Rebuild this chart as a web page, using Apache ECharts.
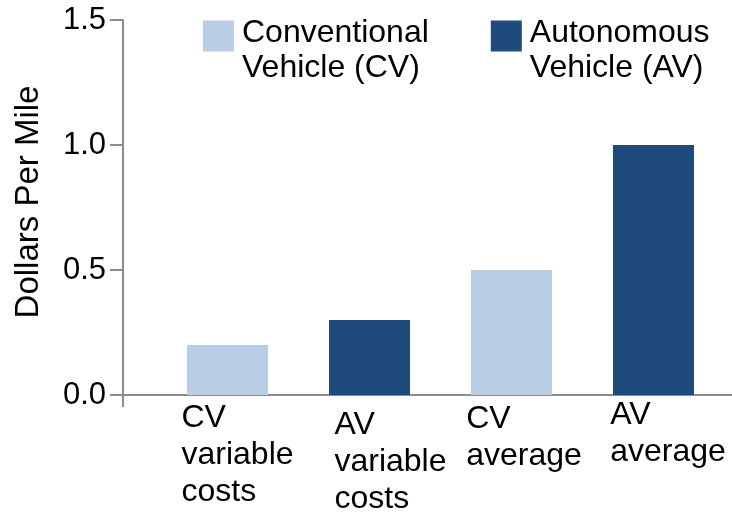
<!DOCTYPE html>
<html>
<head>
<meta charset="utf-8">
<script src="https://cdn.jsdelivr.net/npm/echarts@6/dist/echarts.min.js"></script>
<style>
html,body{margin:0;padding:0;background:#fff;}
#chart{width:732px;height:516px;}
</style>
</head>
<body>
<div id="chart"></div>
<script>
// ---- data ----
const categories = ['CV\nvariable\ncosts', 'AV\nvariable\ncosts', 'CV\naverage', 'AV\naverage'];
const vehicleType = ['CV', 'AV', 'CV', 'AV'];
const values = [0.2, 0.3, 0.5, 1.0];
const seriesNames = ['Conventional\nVehicle (CV)', 'Autonomous\nVehicle (AV)'];
const seriesKeys = ['CV', 'AV'];
const yTicks = [0, 0.5, 1.0, 1.5];
const yAxisName = 'Dollars Per Mile';

// ---- styles ----
const FONT = '"Liberation Sans", Arial, sans-serif';
const colors = {CV: '#b9cde5', AV: '#1f4a7c'};
const axisColor = '#8c8c8c';
const labelShiftX = [10, 21, 12.5, 14.5];
const labelShiftY = [4.5, 12, 6, 1.5];

const rich = {};
categories.forEach((c, i) => {
  rich['s' + i] = {fontSize: 1, lineHeight: labelShiftY[i]};
  rich['c' + i] = {fontSize: 32, lineHeight: 37, align: 'left', color: '#000',
                   fontFamily: FONT, padding: [0, -labelShiftX[i], 0, labelShiftX[i]]};
});

const series = seriesKeys.map((k, si) => ({
  name: seriesNames[si],
  type: 'bar',
  barWidth: 81,
  barGap: '-100%',
  itemStyle: {color: colors[k]},
  data: values.map((v, i) => vehicleType[i] === k ? [i, v] : null).filter(d => d)
}));

const xMin = -0.736, xMax = 3.553;

const chart = echarts.init(document.getElementById('chart'));
chart.setOption({
  animation: false,
  backgroundColor: '#fff',
  textStyle: {fontFamily: FONT},
  grid: {left: 123, right: 0, top: 20, bottom: 121},
  legend: {
    data: seriesNames,
    left: 203,
    top: 0.5,
    padding: 0,
    itemWidth: 31,
    itemHeight: 31,
    itemGap: 62,
    icon: 'rect',
    selectedMode: false,
    formatter: function (name) {
      return '{sp| }\n' + name.split('\n').map(l => '{t|' + l + '}').join('\n');
    },
    textStyle: {
      fontFamily: FONT, color: '#000',
      rich: {
        sp: {fontSize: 1, lineHeight: 30},
        t: {fontSize: 32, lineHeight: 35, color: '#000', fontFamily: FONT, padding: [0, 0, 0, 3]}
      }
    }
  },
  xAxis: {
    type: 'value',
    min: xMin,
    max: xMax,
    splitLine: {show: false},
    axisLine: {show: true, onZero: false, lineStyle: {color: axisColor, width: 2}},
    axisTick: {show: true, customValues: [xMin], length: 12, lineStyle: {color: axisColor, width: 2}},
    axisLabel: {
      customValues: categories.map((c, i) => i),
      margin: 0,
      align: 'center',
      verticalAlign: 'top',
      showMinLabel: true,
      showMaxLabel: true,
      hideOverlap: false,
      formatter: function (v) {
        const i = Math.round(v);
        const lines = categories[i].split('\n');
        return '{s' + i + '| }\n' + lines.map(l => '{c' + i + '|' + l + '}').join('\n');
      },
      rich: rich
    }
  },
  yAxis: {
    type: 'value',
    min: yTicks[0],
    max: yTicks[yTicks.length - 1],
    interval: yTicks[1] - yTicks[0],
    name: yAxisName,
    nameLocation: 'middle',
    nameGap: 78,
    nameTextStyle: {fontSize: 33, color: '#000', fontFamily: FONT, padding: [0, 0, 0, 11]},
    splitLine: {show: false},
    axisLine: {show: true, onZero: false, lineStyle: {color: axisColor, width: 2}},
    axisTick: {show: true, length: 13, lineStyle: {color: axisColor, width: 2}},
    axisLabel: {fontSize: 31, color: '#000', margin: 17, fontFamily: FONT,
                formatter: v => v.toFixed(1)}
  },
  series: series
});
</script>
</body>
</html>
